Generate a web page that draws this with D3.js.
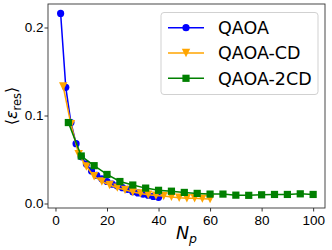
<!DOCTYPE html>
<meta charset="utf-8">
<style>
  body { margin: 0; background: #fff; }
  svg { display: block; font-family: "DejaVu Sans", sans-serif; }
  .tick text { font-size: 13.5px; fill: #000; }
  .legend text { font-size: 17.5px; }
</style>
<svg width="332" height="250"></svg>
<script src="https://cdn.jsdelivr.net/npm/d3@7"></script>
<script>
// values
var npQaoa = [2, 4, 6, 8, 10, 12, 14, 16, 18, 20, 22, 24, 26, 28, 30, 32, 34, 36, 38, 40];
var epsQaoa = [0.216, 0.132, 0.092, 0.068, 0.053, 0.045, 0.037, 0.032, 0.028, 0.025,
               0.022, 0.020, 0.018, 0.016, 0.0135, 0.012, 0.0105, 0.0095, 0.008, 0.007];
var npCd = [3, 6, 9, 12, 15, 18, 21, 24, 27, 30, 33, 36, 39, 42, 45, 48, 51, 54, 57, 60];
var epsCd = [0.133, 0.090, 0.056, 0.042, 0.031, 0.025, 0.021, 0.018, 0.0155, 0.013,
             0.0115, 0.010, 0.009, 0.0085, 0.0075, 0.0065, 0.006, 0.006, 0.0055, 0.005];
var np2cd = [5, 10, 15, 20, 25, 30, 35, 40, 45, 50, 55, 60, 65, 70, 75, 80, 85, 90, 95, 100];
var eps2cd = [0.092, 0.054, 0.043, 0.033, 0.025, 0.021, 0.0175, 0.015, 0.014, 0.0126,
              0.0115, 0.0107, 0.0107, 0.0095, 0.0093, 0.0099, 0.0103, 0.0103, 0.011, 0.0103];
var seriesNames = ["QAOA", "QAOA-CD", "QAOA-2CD"];
var xTicks = [0, 20, 40, 60, 80, 100];
var yTicks = [0.0, 0.1, 0.2];

var svg = d3.select("svg");
var pLeft = 48, pRight = 325, pTop = 4, pBottom = 208;

var x = d3.scaleLinear().domain([-2.9, 104.6]).range([pLeft, pRight]);
var y = d3.scaleLinear().domain([-0.0051, 0.2267]).range([pBottom, pTop]);

var series = [
  { name: seriesNames[0], xs: npQaoa, ys: epsQaoa, color: "#0000ff", shape: "circle" },
  { name: seriesNames[1], xs: npCd, ys: epsCd, color: "#ffa500", shape: "tri" },
  { name: seriesNames[2], xs: np2cd, ys: eps2cd, color: "#008000", shape: "square" }
];

function marker(sel, shape, color) {
  if (shape === "circle") {
    sel.append("circle").attr("r", 3.6).attr("fill", color);
  } else if (shape === "square") {
    sel.append("rect").attr("x", -3.6).attr("y", -3.6).attr("width", 7.2).attr("height", 7.2).attr("fill", color);
  } else {
    sel.append("path").attr("d", "M0,4.2L-4.2,-4.2L4.2,-4.2Z").attr("fill", color);
  }
}

var line = d3.line().x(function(d) { return x(d[0]); }).y(function(d) { return y(d[1]); });

series.forEach(function(s) {
  var pts = s.xs.map(function(v, i) { return [v, s.ys[i]]; });
  svg.append("path").datum(pts).attr("d", line)
    .attr("fill", "none").attr("stroke", s.color).attr("stroke-width", 1.5);
  svg.selectAll(null).data(pts).enter().append("g")
    .attr("transform", function(d) { return "translate(" + x(d[0]) + "," + y(d[1]) + ")"; })
    .each(function() { marker(d3.select(this), s.shape, s.color); });
});

// axes
var xAxis = svg.append("g").attr("transform", "translate(0," + pBottom + ")")
  .call(d3.axisBottom(x).tickValues(xTicks).tickSize(3.5).tickPadding(3.5).tickFormat(d3.format("d")));
var yAxis = svg.append("g").attr("transform", "translate(" + pLeft + ",0)")
  .call(d3.axisLeft(y).tickValues(yTicks).tickSize(3.5).tickPadding(1).tickFormat(d3.format(".1f")));
[xAxis, yAxis].forEach(function(a) {
  a.select(".domain").remove();
  a.selectAll("line").attr("stroke", "#000").attr("stroke-width", 0.8);
});

svg.append("rect").attr("x", pLeft).attr("y", pTop)
  .attr("width", pRight - pLeft).attr("height", pBottom - pTop)
  .attr("fill", "none").attr("stroke", "#333").attr("stroke-width", 0.9);

// axis labels
svg.append("text").attr("x", (pLeft + pRight) / 2).attr("y", 239)
  .attr("text-anchor", "middle").attr("font-size", 17.5)
  .html('<tspan font-style="italic">N</tspan><tspan font-style="italic" font-size="12.5" dy="4">p</tspan>');
svg.append("text").attr("transform", "translate(17," + (pTop + pBottom) / 2 + ") rotate(-90)")
  .attr("text-anchor", "middle").attr("font-size", 16)
  .html('⟨<tspan font-style="italic">ε</tspan><tspan font-size="11.5" dy="4">res</tspan><tspan dy="-4">⟩</tspan>');

// legend
var lg = svg.append("g").attr("class", "legend");
lg.append("rect").attr("x", 161).attr("y", 12.5).attr("width", 157).attr("height", 82).attr("rx", 3)
  .attr("fill", "#fff").attr("fill-opacity", 0.8).attr("stroke", "#ccc").attr("stroke-width", 0.9);
series.forEach(function(s, i) {
  var yy = 27.7 + i * 25.3;
  var row = lg.append("g").attr("transform", "translate(0," + yy + ")");
  row.append("line").attr("x1", 168).attr("x2", 204).attr("stroke", s.color).attr("stroke-width", 1.5);
  var m = row.append("g").attr("transform", "translate(186,0)");
  marker(m, s.shape, s.color);
  row.append("text").attr("x", 218).attr("y", 6.3).text(s.name);
});
</script>
